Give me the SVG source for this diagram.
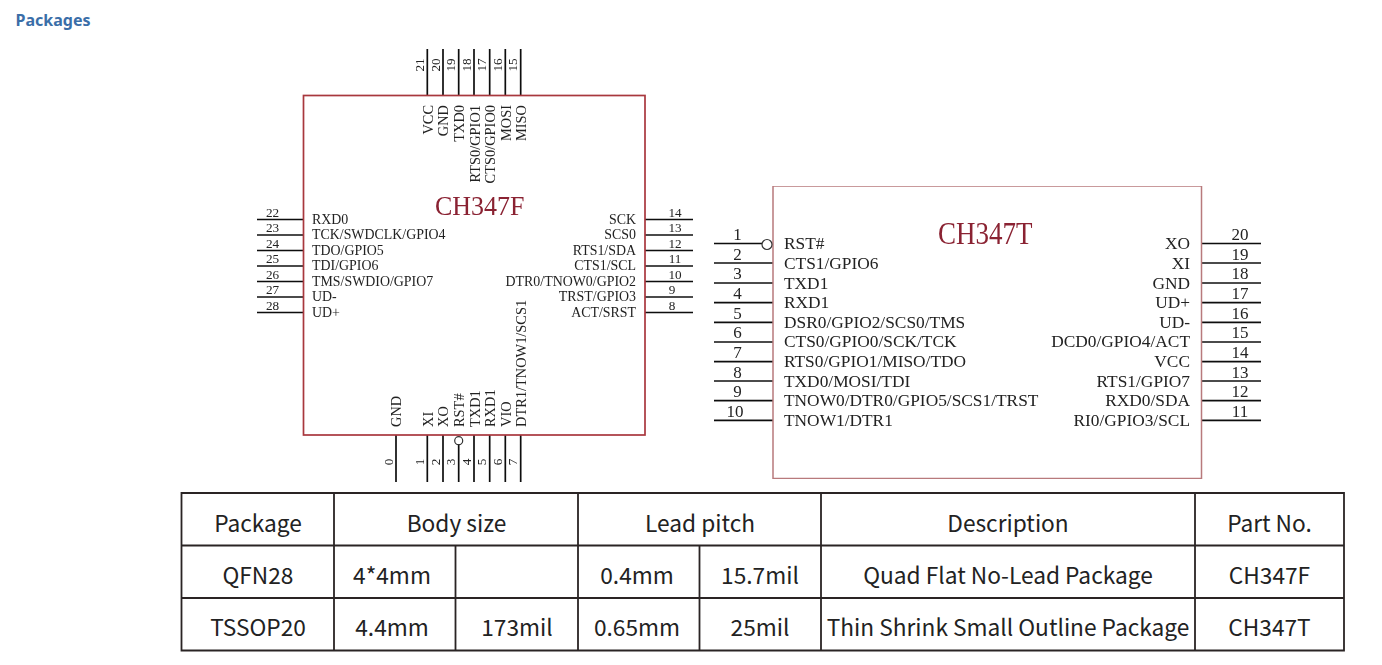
<svg xmlns="http://www.w3.org/2000/svg" width="1382" height="665" viewBox="0 0 1382 665">
<defs><filter id="soft" x="0" y="0" width="1" height="1" filterUnits="objectBoundingBox"><feGaussianBlur stdDeviation="0.35"/></filter></defs>
<style>
text{font-family:"Liberation Serif","Times New Roman",serif;fill:#222}
.pin{stroke:#111;stroke-width:1.7;fill:none}
.body{fill:none;stroke:#a8383c;stroke-width:1.7}
.bodyt{fill:none;stroke:#b87a7c;stroke-width:1.5}
.bub{fill:#fff;stroke:#333;stroke-width:1.2}
.f{font-size:13.9px}
.r{font-size:14.4px}
.fn{font-size:13.2px}
.t{font-size:17.35px}
.tn{font-size:17px;text-anchor:middle}
.e{text-anchor:end}
.m{text-anchor:middle}
.title{fill:#8a2232;font-size:26px}
.cell{font-family:"Noto Sans CJK SC","Noto Sans",sans-serif;font-size:22.7px;fill:#222;text-anchor:middle}
.grid{stroke:#2a2424;stroke-width:1.8;fill:none}
.head{font-family:"Noto Sans","Open Sans",sans-serif;font-weight:700;font-size:16px;fill:#3a6ea8}
</style>
<rect width="1382" height="665" fill="#fff"/>
<text id="heading" class="head" x="15.5" y="26">Packages</text>
<g id="connectors" filter="url(#soft)">
<path class="pin" d="M427.3 49V95M443 49V95M458.7 49V95M474 49V95M489.7 49V95M505.3 49V95M520.7 49V95"/>
<path class="pin" d="M257 219.5H303M257 235H303M257 250.5H303M257 266H303M257 281.5H303M257 297H303M257 312.5H303"/>
<path class="pin" d="M645 219.5H693M645 235H693M645 250.5H693M645 266H693M645 281.5H693M645 297H693M645 312.5H693"/>
<path class="pin" d="M396 435V482M427.3 435V482M443 435V482M458.7 445V482M474 435V482M489.7 435V482M505.3 435V482M520.7 435V482"/>
<path class="pin" d="M714 243.5H762M714 263H773M714 283H773M714 302.7H773M714 322.3H773M714 342H773M714 361.7H773M714 381H773M714 400.7H773M714 420.3H773"/>
<path class="pin" d="M1202 243.5H1261M1202 263H1261M1202 283H1261M1202 302.7H1261M1202 322.3H1261M1202 342H1261M1202 361.7H1261M1202 381H1261M1202 400.7H1261M1202 420.3H1261"/>
</g>
<g id="ch347f" filter="url(#soft)">
<rect class="body" x="303.5" y="95.5" width="341.5" height="339.5"/>
<circle class="bub" cx="458.7" cy="440.7" r="4"/>
<text class="title" transform="translate(435 215) scale(1 1.08)">CH347F</text>
<g class="f">
<text x="312" y="223.5">RXD0</text>
<text x="312" y="239">TCK/SWDCLK/GPIO4</text>
<text x="312" y="254.5">TDO/GPIO5</text>
<text x="312" y="270">TDI/GPIO6</text>
<text x="312" y="285.5">TMS/SWDIO/GPIO7</text>
<text x="312" y="301">UD-</text>
<text x="312" y="316.5">UD+</text>
<text class="e" x="636" y="223.5">SCK</text>
<text class="e" x="636" y="239">SCS0</text>
<text class="e" x="636" y="254.5">RTS1/SDA</text>
<text class="e" x="636" y="270">CTS1/SCL</text>
<text class="e" x="636" y="285.5">DTR0/TNOW0/GPIO2</text>
<text class="e" x="636" y="301">TRST/GPIO3</text>
<text class="e" x="636" y="316.5">ACT/SRST</text>
</g>
<g class="r">
<text class="e" transform="translate(432.7 105) rotate(-90)">VCC</text>
<text class="e" transform="translate(448.4 105) rotate(-90)">GND</text>
<text class="e" transform="translate(464 105) rotate(-90)">TXD0</text>
<text class="e" transform="translate(479.5 105) rotate(-90)">RTS0/GPIO1</text>
<text class="e" transform="translate(495 105) rotate(-90)">CTS0/GPIO0</text>
<text class="e" transform="translate(510.7 105) rotate(-90)">MOSI</text>
<text class="e" transform="translate(526 105) rotate(-90)">MISO</text>
<text transform="translate(401 427) rotate(-90)">GND</text>
<text transform="translate(432.8 427) rotate(-90)">XI</text>
<text transform="translate(448.4 427) rotate(-90)">XO</text>
<text transform="translate(464 427) rotate(-90)">RST#</text>
<text transform="translate(479.5 427) rotate(-90)">TXD1</text>
<text transform="translate(495 427) rotate(-90)">RXD1</text>
<text transform="translate(510.7 427) rotate(-90)">VIO</text>
<text transform="translate(526 427) rotate(-90)">DTR1/TNOW1/SCS1</text>
</g>
<g class="fn">
<text class="m" x="272.5" y="216.5">22</text>
<text class="m" x="272.5" y="232">23</text>
<text class="m" x="272.5" y="247.5">24</text>
<text class="m" x="272.5" y="263">25</text>
<text class="m" x="272.5" y="278.5">26</text>
<text class="m" x="272.5" y="294">27</text>
<text class="m" x="272.5" y="309.5">28</text>
<text class="m" x="675" y="216.5">14</text>
<text class="m" x="675" y="232">13</text>
<text class="m" x="675" y="247.5">12</text>
<text class="m" x="675" y="263">11</text>
<text class="m" x="675" y="278.5">10</text>
<text class="m" x="672" y="294">9</text>
<text class="m" x="672" y="309.5">8</text>
<text class="m" transform="translate(424 65) rotate(-90)">21</text>
<text class="m" transform="translate(439.5 65) rotate(-90)">20</text>
<text class="m" transform="translate(455 65) rotate(-90)">19</text>
<text class="m" transform="translate(470.5 65) rotate(-90)">18</text>
<text class="m" transform="translate(486 65) rotate(-90)">17</text>
<text class="m" transform="translate(501.5 65) rotate(-90)">16</text>
<text class="m" transform="translate(517 65) rotate(-90)">15</text>
<text class="m" transform="translate(392.5 462) rotate(-90)">0</text>
<text class="m" transform="translate(424 462) rotate(-90)">1</text>
<text class="m" transform="translate(439.5 462) rotate(-90)">2</text>
<text class="m" transform="translate(455 462) rotate(-90)">3</text>
<text class="m" transform="translate(470.5 462) rotate(-90)">4</text>
<text class="m" transform="translate(486 462) rotate(-90)">5</text>
<text class="m" transform="translate(501.5 462) rotate(-90)">6</text>
<text class="m" transform="translate(517 462) rotate(-90)">7</text>
</g>
</g>
<g id="ch347t" filter="url(#soft)">
<rect class="bodyt" x="773" y="186" width="428.5" height="292.5"/>
<circle class="bub" cx="767" cy="244.5" r="5"/>
<text class="title" style="font-size:27px" transform="translate(938 243.5) scale(1 1.2)">CH347T</text>
<g class="t">
<text x="784" y="249">RST#</text>
<text x="784" y="268.5">CTS1/GPIO6</text>
<text x="784" y="288.5">TXD1</text>
<text x="784" y="308">RXD1</text>
<text x="784" y="327.5">DSR0/GPIO2/SCS0/TMS</text>
<text x="784" y="347">CTS0/GPIO0/SCK/TCK</text>
<text x="784" y="367">RTS0/GPIO1/MISO/TDO</text>
<text x="784" y="386.5">TXD0/MOSI/TDI</text>
<text x="784" y="406">TNOW0/DTR0/GPIO5/SCS1/TRST</text>
<text x="784" y="425.5">TNOW1/DTR1</text>
<text class="e" x="1190" y="249">XO</text>
<text class="e" x="1190" y="268.5">XI</text>
<text class="e" x="1190" y="288.5">GND</text>
<text class="e" x="1190" y="308">UD+</text>
<text class="e" x="1190" y="327.5">UD-</text>
<text class="e" x="1190" y="347">DCD0/GPIO4/ACT</text>
<text class="e" x="1190" y="367">VCC</text>
<text class="e" x="1190" y="386.5">RTS1/GPIO7</text>
<text class="e" x="1190" y="406">RXD0/SDA</text>
<text class="e" x="1190" y="425.5">RI0/GPIO3/SCL</text>
</g>
<g>
<text class="tn" x="737.5" y="240">1</text>
<text class="tn" x="737.5" y="259.5">2</text>
<text class="tn" x="737.5" y="279">3</text>
<text class="tn" x="737.5" y="299">4</text>
<text class="tn" x="737.5" y="318.5">5</text>
<text class="tn" x="737.5" y="338">6</text>
<text class="tn" x="737.5" y="358">7</text>
<text class="tn" x="737.5" y="377.5">8</text>
<text class="tn" x="737.5" y="397">9</text>
<text class="tn" x="735" y="416.5">10</text>
<text class="tn" x="1240" y="240">20</text>
<text class="tn" x="1240" y="259.5">19</text>
<text class="tn" x="1240" y="279">18</text>
<text class="tn" x="1240" y="299">17</text>
<text class="tn" x="1240" y="318.5">16</text>
<text class="tn" x="1240" y="338">15</text>
<text class="tn" x="1240" y="358">14</text>
<text class="tn" x="1240" y="377.5">13</text>
<text class="tn" x="1240" y="397">12</text>
<text class="tn" x="1240" y="416.5">11</text>
</g>
</g>
<g id="package-table">
<path class="grid" d="M181.5 493H1344V650.5H181.5ZM181.5 545.5H1344M181.5 598H1344M334 493V650.5M578 493V650.5M821 493V650.5M1195 493V650.5M455.5 545.5V650.5M699.5 545.5V650.5"/>
<text class="cell" x="258" y="532">Package</text>
<text class="cell" x="456.5" y="532">Body size</text>
<text class="cell" x="700" y="532">Lead pitch</text>
<text class="cell" x="1008" y="532">Description</text>
<text class="cell" x="1269.5" y="532">Part No.</text>
<text class="cell" x="258" y="584">QFN28</text>
<text class="cell" x="392" y="584">4*4mm</text>
<text class="cell" x="637" y="584">0.4mm</text>
<text class="cell" x="760" y="584">15.7mil</text>
<text class="cell" x="1008" y="584">Quad Flat No-Lead Package</text>
<text class="cell" x="1269.5" y="584">CH347F</text>
<text class="cell" x="258" y="636">TSSOP20</text>
<text class="cell" x="392" y="636">4.4mm</text>
<text class="cell" x="517" y="636">173mil</text>
<text class="cell" x="637" y="636">0.65mm</text>
<text class="cell" x="760" y="636">25mil</text>
<text class="cell" x="1008" y="636">Thin Shrink Small Outline Package</text>
<text class="cell" x="1269.5" y="636">CH347T</text>
</g>
</svg>
